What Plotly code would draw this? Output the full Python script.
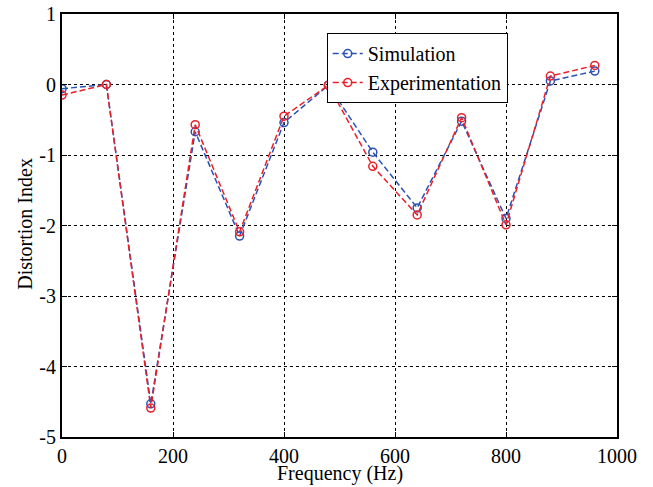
import plotly.graph_objects as go

freq = [0, 80, 160, 240, 320, 400, 480, 560, 640, 720, 800, 880, 960]
simulation = [-0.06, 0.0, -4.53, -0.67, -2.15, -0.54, -0.01, -0.96, -1.75, -0.52, -1.90, 0.05, 0.19]
experimentation = [-0.15, 0.0, -4.59, -0.57, -2.09, -0.45, -0.01, -1.16, -1.85, -0.47, -1.99, 0.12, 0.27]
x_ticks = [0, 200, 400, 600, 800, 1000]
y_ticks = [1, 0, -1, -2, -3, -4, -5]
x_title = "Frequency (Hz)"
y_title = "Distortion Index"

FONT = "Liberation Serif"
FS = 20

fig = go.Figure()
fig.add_trace(go.Scatter(
    x=freq, y=simulation, name="Simulation", mode="lines+markers",
    line=dict(color="#2a52b4", width=1.5, dash="6px,3px"),
    marker=dict(symbol="circle-open", size=8, color="#2a52b4", line=dict(width=1.5)),
))
fig.add_trace(go.Scatter(
    x=freq, y=experimentation, name="Experimentation", mode="lines+markers",
    line=dict(color="#e8202a", width=1.5, dash="6px,3px"),
    marker=dict(symbol="circle-open", size=8, color="#e8202a", line=dict(width=1.5)),
))

axis_common = dict(
    showline=True, linecolor="black", linewidth=2, mirror="ticks",
    ticks="inside", ticklen=5, tickcolor="black", tickwidth=1,
    showgrid=True, gridcolor="black", griddash="dot", gridwidth=1,
    zeroline=False, automargin=False,
    tickfont=dict(family=FONT, size=FS, color="black"),
)

fig.update_xaxes(range=[0, 1000], tickvals=x_ticks, ticktext=[str(v) for v in x_ticks], **axis_common)
fig.update_yaxes(range=[-5, 1], tickvals=y_ticks, ticktext=[str(v) for v in y_ticks], **axis_common)

fig.add_annotation(text=x_title, xref="paper", yref="paper", x=0.5, y=-0.117,
                   xanchor="center", yanchor="bottom", showarrow=False, borderpad=0,
                   font=dict(family=FONT, size=FS, color="black"))
fig.add_annotation(text=y_title, xref="paper", yref="paper", x=-0.066, y=0.505,
                   xanchor="center", yanchor="middle", showarrow=False, textangle=-90,
                   font=dict(family=FONT, size=FS, color="black"))

fig.update_layout(
    width=653, height=487,
    margin=dict(l=62, r=36, t=14, b=50),
    plot_bgcolor="white", paper_bgcolor="white",
    font=dict(family=FONT, size=FS, color="black"),
    legend=dict(x=0.477, y=0.955, xanchor="left", yanchor="top",
                bgcolor="white", bordercolor="black", borderwidth=1,
                font=dict(family=FONT, size=FS, color="black"),
                tracegroupgap=0, itemwidth=30),
    showlegend=True,
)

fig.write_html("out.html")
